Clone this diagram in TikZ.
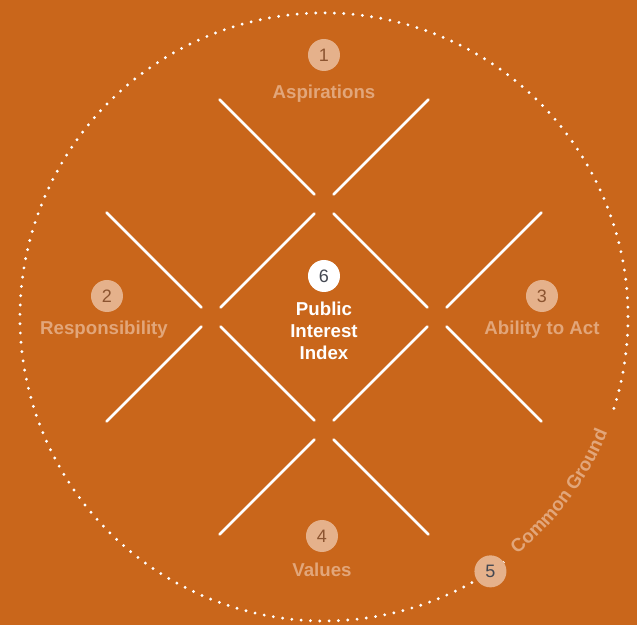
\documentclass[tikz,border=0pt]{standalone}
\usepackage{fontspec}
\setmainfont{Liberation Sans}
\usetikzlibrary{decorations.text}

\definecolor{bgorange}{RGB}{201,102,27}
\definecolor{peach}{RGB}{229,177,139}
\definecolor{tagtext}{RGB}{226,166,122}
\definecolor{numbrown}{RGB}{140,84,48}
\definecolor{numgray}{RGB}{68,72,82}

\begin{document}
\begin{tikzpicture}[x=0.75pt,y=0.75pt,
gridline/.style={white, line width=1.9pt, line cap=round},
peachdot/.style={circle, fill=peach, text=numbrown, minimum size=24pt, inner sep=0pt, font=\fontsize{13.5}{16}\selectfont},
whitedot/.style={circle, fill=white, text=numgray, minimum size=24pt, inner sep=0pt, font=\fontsize{13.5}{16}\selectfont},
areatext/.style={text=tagtext, anchor=base, font=\fontsize{14}{16.8}\selectfont\bfseries},
centertext/.style={text=white, align=center, font=\fontsize{14}{16.5}\selectfont\bfseries},
dotring/.style={white, line width=2.4pt, line cap=round, dash pattern=on 0pt off 7pt}
]
%Background
\fill[bgorange] (-324,-308) rectangle (313,317);
\useasboundingbox (-324,-308) rectangle (313,317);

%Lines
\foreach \a in {0,90,180,270}{
  \draw[gridline, rotate=\a] (-104.5,217.5) -- (-9.5,122.5);
  \draw[gridline, rotate=\a] (9.5,103.5) -- (103.5,9.5);
  \draw[gridline, rotate=\a] (122.5,-9.5) -- (217.5,-104.5);
}

%Ring
\draw[dotring] (-17.5:304) arc[start angle=-17.5, end angle=306.5, radius=304];
\path[decorate, decoration={text along path, text align=center, text color=tagtext,
  text={|\fontsize{14}{16}\selectfont\bfseries|Common Ground}}]
  (-56:306) arc[start angle=-56, end angle=-17, radius=306];

%Nodes
\node[peachdot] at (0,262) (n1) {1};
\node[areatext] at (0,218) (aspirations) {Aspirations};
\node[peachdot] at (-217,21) (n2) {2};
\node[areatext] at (-220,-18) (responsibility) {Responsibility};
\node[peachdot] at (218,21) (n3) {3};
\node[areatext] at (218,-18) (ability) {Ability to Act};
\node[peachdot] at (-2,-219) (n4) {4};
\node[areatext] at (-2,-260) (values) {Values};
\node[peachdot, text=numgray] at (-56.8:304) (n5) {5};
\node[whitedot] at (0,41) (n6) {6};
\node[centertext] at (0,-13.5) (pii) {Public\\Interest\\Index};

\end{tikzpicture}
\end{document}
